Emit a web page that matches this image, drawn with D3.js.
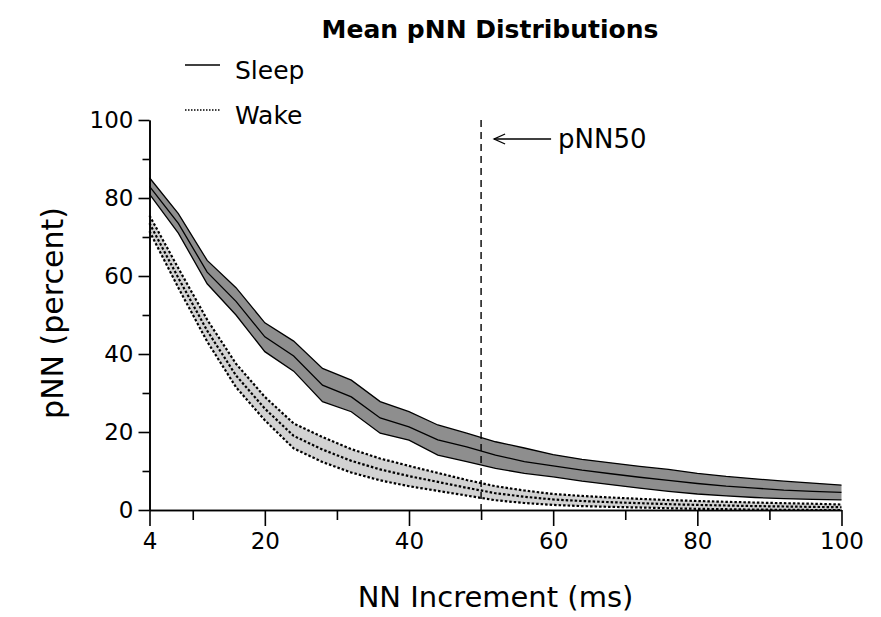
<!DOCTYPE html>
<html>
<head>
<meta charset="utf-8">
<script src="https://cdn.jsdelivr.net/npm/d3@7"></script>
<style>
  body { margin: 0; background: #fff; }
  svg { display: block; }
  text { font-family: "DejaVu Sans", sans-serif; fill: #000; }
</style>
</head>
<body>
<svg id="chart" width="881" height="617"></svg>
<script>
// NN increment thresholds (ms)
const increments = [4, 8, 12, 16, 20, 24, 28, 32, 36, 40, 44, 48, 52, 56, 60, 64, 68, 72, 76, 80, 84, 88, 92, 96, 100];

// Sleep: mean pNN with lower / upper band (percent)
const sleepMean  = [83, 73.5, 61, 53.5, 44.4, 39.5, 32, 29, 23.6, 21.3, 18, 16.2, 14.1, 12.4, 11.3, 10.2, 9.3, 8.4, 7.6, 6.8, 6.1, 5.6, 5.1, 4.8, 4.5];
const sleepLower = [81, 71, 58, 50, 40.6, 35.6, 27.8, 25.2, 19.7, 17.9, 14.1, 12.4, 10.7, 9.4, 8.5, 7.4, 6.5, 5.6, 4.8, 4.1, 3.6, 3.2, 2.9, 2.7, 2.6];
const sleepUpper = [85.2, 76, 64, 57, 48, 43.3, 36.3, 33.3, 27.8, 25.2, 21.8, 19.7, 17.5, 15.9, 14.2, 13, 12.1, 11.2, 10.4, 9.4, 8.6, 8.0, 7.4, 6.9, 6.4];

// Wake: mean pNN with lower / upper band (percent)
const wakeMean  = [73.5, 59.5, 46, 34.5, 26, 19, 15.5, 12.6, 10.4, 8.7, 7.2, 5.7, 4.3, 3.4, 2.7, 2.3, 2.0, 1.75, 1.5, 1.3, 1.15, 1.0, 0.9, 0.8, 0.7];
const wakeLower = [71.5, 57, 43.2, 31.5, 23, 15.8, 12.3, 9.6, 7.6, 6.1, 4.9, 3.7, 2.5, 1.8, 1.3, 1.0, 0.8, 0.65, 0.45, 0.3, 0.2, 0.1, 0.05, 0, 0];
const wakeUpper = [75.5, 62, 48.8, 37.5, 29, 22.2, 18.7, 15.6, 13.2, 11.3, 9.5, 7.7, 6.1, 5.0, 4.1, 3.6, 3.2, 2.85, 2.55, 2.3, 2.1, 1.9, 1.75, 1.6, 1.4];

// Axis ticks
const xMajorTicks = [4, 20, 40, 60, 80, 100];
const xMinorTicks = [10, 30, 50, 70, 90];
const yMajorTicks = [0, 20, 40, 60, 80, 100];
const yMinorTicks = [10, 30, 50, 70, 90];

// Reference threshold
const pnnThreshold = 50;

const svg = d3.select("#chart");

const x = d3.scaleLinear().domain([4, 100]).range([149.5, 841.5]);
const y = d3.scaleLinear().domain([0, 100]).range([510, 120]);

const sleep = increments.map((v, i) => ({ x: v, m: sleepMean[i], lo: sleepLower[i], hi: sleepUpper[i] }));
const wake  = increments.map((v, i) => ({ x: v, m: wakeMean[i],  lo: wakeLower[i],  hi: wakeUpper[i] }));

const area = d3.area().x(d => x(d.x)).y0(d => y(d.lo)).y1(d => y(d.hi));
const lineOf = key => d3.line().x(d => x(d.x)).y(d => y(d[key]));

// Sleep band
const gSleep = svg.append("g");
gSleep.append("path").datum(sleep).attr("d", area).attr("fill", "#8e8e8e");
["lo", "hi", "m"].forEach(k => {
  gSleep.append("path").datum(sleep).attr("d", lineOf(k))
    .attr("fill", "none").attr("stroke", "#000").attr("stroke-width", 1.3);
});

// Wake band
const gWake = svg.append("g");
gWake.append("path").datum(wake).attr("d", area).attr("fill", "#d2d2d2");
["lo", "hi", "m"].forEach(k => {
  gWake.append("path").datum(wake).attr("d", lineOf(k))
    .attr("fill", "none").attr("stroke", "#000").attr("stroke-width", 2.2)
    .attr("stroke-dasharray", "2.5,2");
});

// pNN50 marker
svg.append("line")
  .attr("x1", x(pnnThreshold)).attr("x2", x(pnnThreshold))
  .attr("y1", y(100)).attr("y2", y(0))
  .attr("stroke", "#000").attr("stroke-width", 1.4).attr("stroke-dasharray", "7,5");

const ax = x(pnnThreshold) + 13, ay = 139;
svg.append("line").attr("x1", ax).attr("x2", ax + 57).attr("y1", ay).attr("y2", ay)
  .attr("stroke", "#000").attr("stroke-width", 1.3);
svg.append("path")
  .attr("d", `M${ax + 11},${ay - 5}L${ax},${ay}L${ax + 11},${ay + 5}`)
  .attr("fill", "none").attr("stroke", "#000").attr("stroke-width", 1.3);
svg.append("text").attr("x", ax + 64).attr("y", 148)
  .attr("font-size", 26).text("pNN50");

// Axes
function styleAxis(g) {
  g.selectAll("path, line").attr("stroke", "#000").attr("stroke-width", 1.6);
  g.selectAll("text").attr("font-family", "DejaVu Sans, sans-serif").attr("font-size", 23).attr("fill", "#000");
}

svg.append("g").attr("transform", `translate(0,${y(0)})`)
  .call(d3.axisBottom(x).tickValues(xMinorTicks).tickSize(10).tickSizeOuter(0).tickFormat(""))
  .call(styleAxis);
svg.append("g").attr("transform", `translate(0,${y(0)})`)
  .call(d3.axisBottom(x).tickValues(xMajorTicks).tickSize(16).tickSizeOuter(0).tickPadding(7).tickFormat(d3.format("d")))
  .call(styleAxis);

svg.append("g").attr("transform", `translate(${x(4)},0)`)
  .call(d3.axisLeft(y).tickValues(yMinorTicks).tickSize(7).tickSizeOuter(0).tickFormat(""))
  .call(styleAxis);
svg.append("g").attr("transform", `translate(${x(4)},0)`)
  .call(d3.axisLeft(y).tickValues(yMajorTicks).tickSize(11).tickSizeOuter(0).tickPadding(5).tickFormat(d3.format("d")))
  .call(styleAxis);

// Titles
svg.append("text").attr("x", 490).attr("y", 38).attr("text-anchor", "middle")
  .attr("font-size", 25).attr("font-weight", "bold").text("Mean pNN Distributions");

svg.append("text").attr("x", 495.5).attr("y", 607).attr("text-anchor", "middle")
  .attr("font-size", 29).text("NN Increment (ms)");

svg.append("text").attr("transform", "translate(63,313) rotate(-90)").attr("text-anchor", "middle")
  .attr("font-size", 30).text("pNN (percent)");

// Legend
const legend = [
  { label: "Sleep", dash: null, y: 65 },
  { label: "Wake", dash: "1.5,1.5", y: 110 }
];
const lg = svg.append("g");
legend.forEach(d => {
  lg.append("line").attr("x1", 185).attr("x2", 220).attr("y1", d.y).attr("y2", d.y)
    .attr("stroke", "#000").attr("stroke-width", 1.3)
    .attr("stroke-dasharray", d.dash);
  lg.append("text").attr("x", 235).attr("y", d.y + 14).attr("font-size", 25).text(d.label);
});
</script>
</body>
</html>
